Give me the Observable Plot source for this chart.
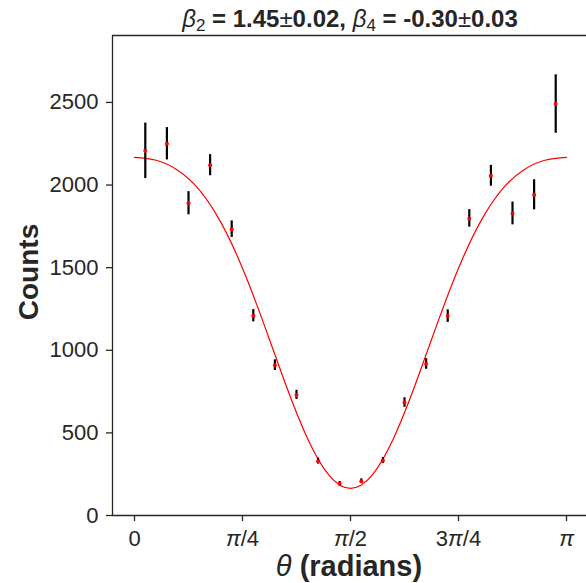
<!DOCTYPE html>
<html><head><meta charset="utf-8">
<script src="https://cdn.jsdelivr.net/npm/d3@7"></script>
<script src="https://cdn.jsdelivr.net/npm/@observablehq/plot@0.6"></script>
<style>body{margin:0;background:#fff} svg{display:block}</style>
</head><body><div id="chart"></div>
<script>
// measured angles (radians), counts and their uncertainties
const theta = [0.0785, 0.2356, 0.3927, 0.5498, 0.7069, 0.8639, 1.0210, 1.1781, 1.3352, 1.4923,
               1.6493, 1.8064, 1.9635, 2.1206, 2.2777, 2.4347, 2.5918, 2.7489, 2.9060, 3.0631];
const counts = [2207, 2250, 1890, 2120, 1733, 1209, 910, 730, 329, 192,
                208, 333, 684, 917, 1207, 1798, 2056, 1828, 1941, 2490];
const errors = [168, 98, 70, 64, 50, 37, 32, 28, 18, 14,
                14, 18, 29, 32, 38, 53, 63, 69, 91, 177];
// fitted curve read at regular angles
const fitTheta = [0, 0.1571, 0.3142, 0.4712, 0.6283, 0.7854, 0.9425, 1.0996, 1.2566, 1.4137, 1.5708,
                  1.7279, 1.8850, 2.0420, 2.1991, 2.3562, 2.5133, 2.6704, 2.8274, 2.9845, 3.1416];
const fitCounts = [2167, 2150, 2090, 1971, 1774, 1496, 1155, 793, 469, 244, 164,
                   244, 469, 793, 1155, 1496, 1774, 1971, 2090, 2150, 2167];
const xTickValues = [0, Math.PI / 4, Math.PI / 2, 3 * Math.PI / 4, Math.PI];
const xTickLabels = ["0", "π/4", "π/2", "3π/4", "π"];
const yTickValues = [0, 500, 1000, 1500, 2000, 2500];

const points = theta.map((t, i) => ({theta: t, counts: counts[i], err: errors[i]}));
const fit = fitTheta.map((t, i) => ({theta: t, counts: fitCounts[i]}));
const labelOf = new Map(xTickValues.map((v, i) => [v, xTickLabels[i]]));

const FONT = "'Liberation Sans', Arial, Helvetica, sans-serif";
const ink = "#262626";
const xDomain = [-0.16, 3.287];
const yDomain = [0, 2905];

const chart = Plot.plot({
  width: 586, height: 583,
  marginLeft: 112, marginRight: 0, marginTop: 35, marginBottom: 68,
  style: {fontFamily: FONT, fontSize: "22px", color: ink, background: "#fff", overflow: "visible"},
  x: {domain: xDomain, label: null},
  y: {domain: yDomain, label: null},
  marks: [
    Plot.ruleY([yDomain[1]], {stroke: ink, strokeWidth: 1.3}),
    Plot.ruleX([xDomain[0]], {stroke: ink, strokeWidth: 1.3}),
    Plot.ruleY([0], {stroke: ink, strokeWidth: 1.3}),
    Plot.axisY({ticks: yTickValues, tickFormat: d => String(d), tickSize: 6, tickPadding: 8, stroke: ink, strokeWidth: 1.3, fill: ink, fontSize: 22, label: null}),
    Plot.axisX({ticks: xTickValues, tickFormat: d => labelOf.get(d), tickSize: 6, tickPadding: 9, stroke: ink, strokeWidth: 1.3, fill: ink, fontSize: 22, label: null}),
    Plot.line(fit, {x: "theta", y: "counts", stroke: "red", strokeWidth: 1.2, curve: "natural"}),
    Plot.ruleX(points, {x: "theta", y1: d => d.counts - d.err, y2: d => d.counts + d.err, stroke: "black", strokeWidth: 2.2}),
    Plot.dot(points, {x: "theta", y: "counts", r: 2, fill: "red"})
  ]
});
document.getElementById("chart").appendChild(chart);

const svg = d3.select(chart);
// italic pi in tick labels
svg.selectAll('g[aria-label="x-axis tick label"] text').each(function() {
  const t = d3.select(this);
  const s = t.text();
  if (!s.includes("π")) return;
  const parts = s.split("π");
  t.text(null);
  parts.forEach((p, i) => {
    if (p) t.append("tspan").text(p);
    if (i < parts.length - 1) t.append("tspan").attr("font-style", "italic").text("π");
  });
});

// title
const title = svg.append("text")
  .attr("x", 350).attr("y", 27).attr("text-anchor", "middle")
  .attr("font-family", FONT).attr("font-size", 24).attr("fill", ink).attr("font-weight", "bold");
const addSeg = (txt, opts = {}) => {
  const ts = title.append("tspan").text(txt);
  if (opts.italic) ts.attr("font-style", "italic");
  if (opts.normal) ts.attr("font-weight", "normal");
  if (opts.dy) ts.attr("dy", opts.dy);
  if (opts.size) ts.attr("font-size", opts.size);
  return ts;
};
addSeg("β", {italic: true, normal: true});
addSeg("2", {normal: true, dy: 4, size: 17});
addSeg(" = 1.45", {dy: -4});
addSeg("±", {normal: true});
addSeg("0.02, ");
addSeg("β", {italic: true, normal: true});
addSeg("4", {normal: true, dy: 4, size: 17});
addSeg(" = -0.30", {dy: -4});
addSeg("±", {normal: true});
addSeg("0.03");

// x label
const xl = svg.append("text")
  .attr("x", 349).attr("y", 576).attr("text-anchor", "middle")
  .attr("font-family", FONT).attr("font-size", 29).attr("fill", ink).attr("font-weight", "bold");
xl.append("tspan").attr("font-style", "italic").attr("font-weight", "normal").text("θ");
xl.append("tspan").text(" (radians)");

// y label
svg.append("text")
  .attr("transform", "translate(38,272) rotate(-90)")
  .attr("text-anchor", "middle")
  .attr("font-family", FONT).attr("font-size", 28).attr("fill", ink).attr("font-weight", "bold")
  .text("Counts");
</script>
</body></html>
